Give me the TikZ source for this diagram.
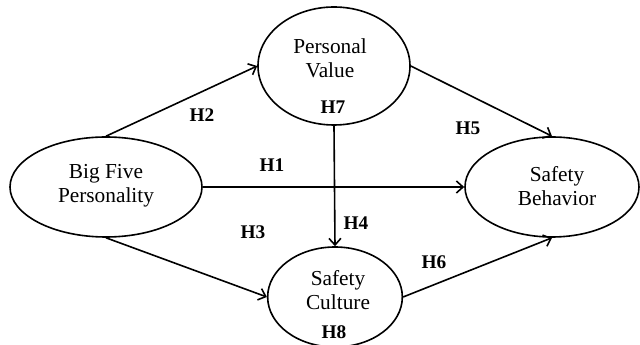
\documentclass[tikz,border=0pt]{standalone}
\usepackage{fontspec}
\setmainfont{Liberation Serif}
\usetikzlibrary{shapes.geometric,arrows.meta}
\tikzset{
	latent/.style={ellipse,draw,line width=1.2pt,inner sep=0pt},
	vartext/.style={align=center,font=\fontsize{16}{18}\selectfont,inner sep=0pt},
	hyp/.style={font=\fontsize{14.5}{16}\selectfont\bfseries,inner sep=0pt},
	path/.style={line width=1.2pt,-{Straight Barb[length=5pt,width=9pt,line width=1.2pt]}},
}
\begin{document}
\begin{tikzpicture}[x=0.75pt,y=-0.75pt]
					\useasboundingbox (0,0) rectangle (640,345);
					% constructs
					\node[latent,minimum width=144pt,minimum height=75pt] (bf) at (106,187){};
					\node[latent,minimum width=114pt,minimum height=88.5pt] (pv) at (334,66){};
					\node[latent,minimum width=101pt,minimum height=75pt] (sc) at (335,297){};
					\node[latent,minimum width=130.5pt,minimum height=75pt] (sb) at (552,187){};
					\node[vartext] (bf text) at (106,186){Big Five\\Personality};
					\node[vartext] (pv text) at (330,58){Personal\\Value};
					\node[vartext] (sc text) at (338,290){Safety\\Culture};
					\node[vartext] (sb text) at (557,186){Safety\\Behavior};
					% hypotheses
					\draw [path] (bf.east) -- (sb.west);
					\draw [path] (bf.north) -- (pv.west);
					\draw [path] (bf.south) -- (sc.west);
					\draw [path] (pv.south) -- (sc.north);
					\draw [path] (pv.east) -- (sb.north);
					\draw [path] (sc.east) -- (sb.south);
					\node[hyp] (h1) at (272,165){H1};
					\node[hyp] (h2) at (202,115){H2};
					\node[hyp] (h3) at (253,232){H3};
					\node[hyp] (h4) at (356,223){H4};
					\node[hyp] (h5) at (468,128){H5};
					\node[hyp] (h6) at (434,262){H6};
					\node[hyp] (h7) at (333,107){H7};
					\node[hyp] (h8) at (334,332){H8};
				\end{tikzpicture}
\end{document}
